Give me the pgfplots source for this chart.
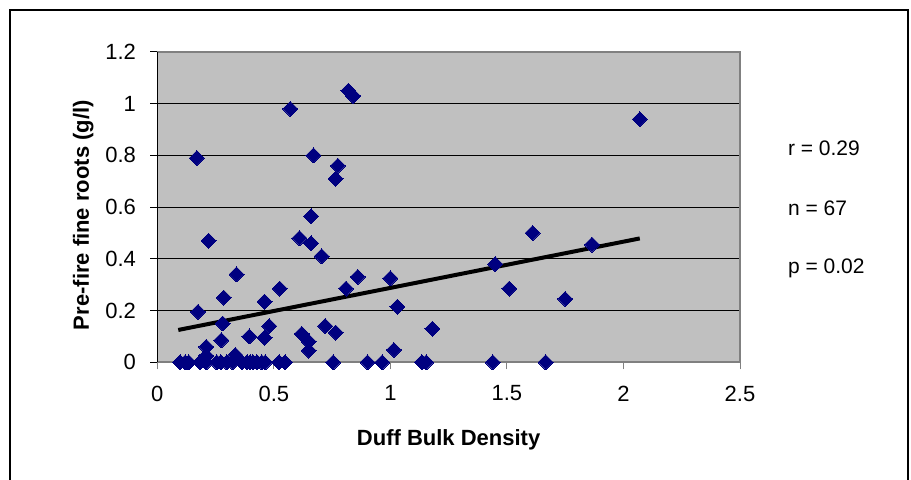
\documentclass[border=0pt]{standalone}
\usepackage{pgfplots}
\pgfplotsset{compat=1.18}
\usepackage{fontspec}
\setmainfont{Liberation Sans}
\definecolor{plotgray}{HTML}{C0C0C0}
\definecolor{bordergray}{HTML}{808080}
\definecolor{navy}{HTML}{000080}

% Duff bulk density vs. pre-fire fine roots (g/l)
\pgfplotstableread{
x y
0.17 0.79
0.57 0.98
0.82 1.05
0.84 1.03
0.67 0.80
0.775 0.76
0.765 0.71
2.07 0.94
0.66 0.565
0.22 0.47
0.61 0.48
0.66 0.46
0.705 0.41
0.34 0.34
0.86 0.33
1.00 0.325
0.525 0.285
0.81 0.285
0.285 0.25
0.46 0.235
1.03 0.215
0.175 0.195
0.28 0.15
0.48 0.14
0.72 0.14
1.18 0.13
0.765 0.115
0.62 0.11
0.395 0.10
0.46 0.095
0.275 0.085
0.65 0.08
0.65 0.045
1.015 0.048
0.21 0.06
0.21 0.025
0.335 0.028
1.61 0.50
1.865 0.455
1.45 0.38
1.51 0.285
1.75 0.245
0.098 0
0.12 0
0.135 0
0.183 0
0.21 0
0.255 0
0.273 0
0.298 0
0.323 0
0.363 0
0.385 0
0.398 0
0.41 0
0.427 0
0.448 0
0.463 0
0.523 0
0.548 0
0.755 0
0.902 0
0.965 0
1.135 0
1.154 0
1.439 0
1.666 0
}\roots

\begin{document}
\begin{tikzpicture}
\useasboundingbox (0pt,0pt) rectangle (455.5pt,240pt);
% chart frame
\draw[black, line width=0.6pt] (5pt,-10pt) -- (5pt,235pt) -- (454pt,235pt) -- (454pt,-10pt);
\begin{axis}[
  at={(78.65pt,58.85pt)}, anchor=south west,
  scale only axis,
  width=291.35pt, height=155.15pt,
  xmin=0, xmax=2.5, ymin=0, ymax=1.2,
  xtick={0,0.5,...,2.5},
  ytick={0,0.2,...,1.2},
  xticklabels={0,0.5,1,1.5,2,2.5},
  yticklabels={0,0.2,0.4,0.6,0.8,1,1.2},
  tick pos=left,
  tick align=outside,
  major tick length=3.5pt,
  tick style={black, line width=0.5pt},
  xtick style={bordergray},
  ymajorgrids,
  major grid style={black, line width=0.5pt},
  axis background/.style={fill=plotgray},
  axis line style={bordergray, line width=0.8pt},
  clip=false,
  tick label style={font=\fontsize{11}{13}\selectfont},
  xticklabel style={anchor=north, inner sep=0pt, yshift=-8pt},
  yticklabel style={anchor=east, inner sep=0pt, xshift=-7pt},
  xlabel={\textbf{Duff Bulk Density}},
  ylabel={\textbf{Pre-fire fine roots (g/l)}},
  label style={font=\fontsize{11}{13}\selectfont},
  xlabel style={at={(rel axis cs:0.5,0)}, anchor=center, yshift=-38.9pt},
  ylabel style={at={(rel axis cs:0,0.5)}, anchor=center, yshift=37pt, xshift=-4pt},
]
\draw[black, line width=0.8pt] (rel axis cs:0,0) -- (rel axis cs:0,1);
\addplot[only marks, mark=square*, mark size=2.65pt,
  mark options={rotate=45, fill=navy, draw=navy, line width=0pt}]
  table[x=x, y=y] {\roots};
% least-squares fit
\addplot[black, line width=2pt, no marks] coordinates {(0.09,0.125) (2.07,0.479)};
\end{axis}
\node[anchor=west, font=\fontsize{10.5}{12}\selectfont] at (390.5pt,166pt) {r = 0.29};
\node[anchor=west, font=\fontsize{10.5}{12}\selectfont] at (390.5pt,136pt) {n = 67};
\node[anchor=west, font=\fontsize{10.5}{12}\selectfont] at (390.5pt,106pt) {p = 0.02};
\end{tikzpicture}
\end{document}
